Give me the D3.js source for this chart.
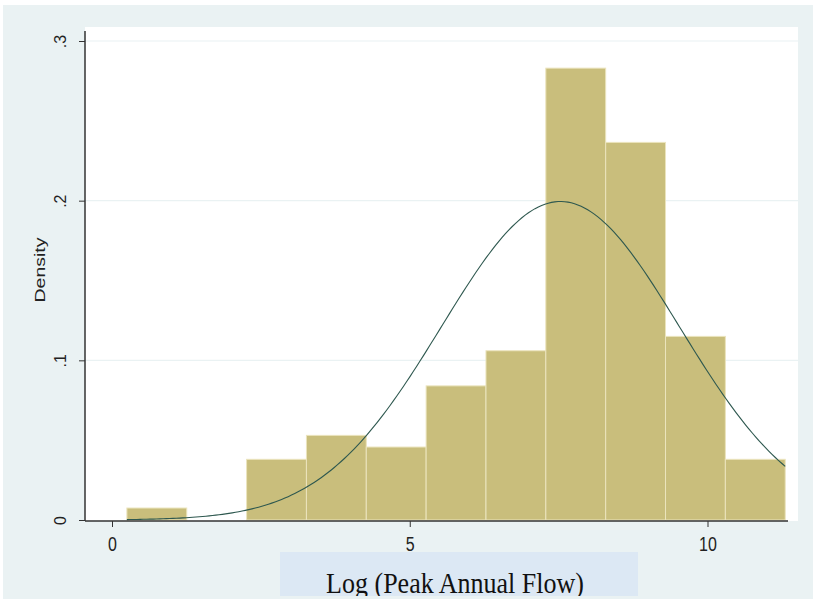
<!DOCTYPE html>
<html>
<head>
<meta charset="utf-8">
<script src="https://cdn.jsdelivr.net/npm/d3@7"></script>
<style>
  body { margin: 0; background: #fff; }
  svg { display: block; }
</style>
</head>
<body>
<svg width="813" height="599"></svg>
<script>
// histogram bins (log of peak annual flow) and their densities
var binLower = [0.25, 1.255, 2.26, 3.265, 4.27, 5.275, 6.28, 7.285, 8.29, 9.295, 10.3];
var binUpper = [1.255, 2.26, 3.265, 4.27, 5.275, 6.28, 7.285, 8.29, 9.295, 10.3, 11.305];
var density = [0.0075, 0, 0.038, 0.053, 0.0457, 0.084, 0.106, 0.283, 0.2365, 0.115, 0.038];

// fitted normal overlay
var normalMean = 7.53;
var normalSd = 2.0;

var xTicks = [0, 5, 10];
var yTicks = [0, 0.1, 0.2, 0.3];
var yTickLabels = ["0", ".1", ".2", ".3"];

var svg = d3.select("svg");
var plot = {left: 85, right: 798, top: 27, bottom: 521};
var sans = "Liberation Sans, Arial, sans-serif";
var stretch = 1.3;   // the picture's glyphs are taller than wide

var x = d3.scaleLinear().domain([0, 10]).range([112, 707.5]);
var y = d3.scaleLinear().domain([0, 0.3]).range([plot.bottom - 1, 41]);

// outer background
svg.append("rect")
    .attr("x", 3).attr("y", 5)
    .attr("width", 810).attr("height", 594)
    .style("fill", "#eaf2f3");

// plot region
svg.append("rect")
    .attr("x", plot.left).attr("y", plot.top)
    .attr("width", plot.right - plot.left)
    .attr("height", plot.bottom - plot.top)
    .style("fill", "#ffffff");

// grid lines
svg.append("g")
    .selectAll("line")
    .data(yTicks.slice(1))
    .enter().append("line")
    .attr("x1", plot.left).attr("x2", plot.right)
    .attr("y1", function(d) {return y(d)})
    .attr("y2", function(d) {return y(d)})
    .style("stroke", "#eaf2f3")
    .style("stroke-width", 1.2);

// bars
var barIdx = d3.range(density.length).filter(function(i) {return density[i] > 0});
svg.append("g")
    .selectAll("rect")
    .data(barIdx)
    .enter().append("rect")
    .attr("x", function(i) {return x(binLower[i])})
    .attr("y", function(i) {return y(density[i])})
    .attr("width", function(i) {return x(binUpper[i]) - x(binLower[i])})
    .attr("height", function(i) {return y(0) - y(density[i])})
    .style("fill", "#c9be7c")
    .style("stroke", "#ebe4bd")
    .style("stroke-width", 1);

// normal density curve
var curvePts = d3.range(0, 201).map(function(k) {
    var v = binLower[0] + (binUpper[binUpper.length - 1] - binLower[0]) * k / 200;
    var z = (v - normalMean) / normalSd;
    return [v, Math.exp(-0.5 * z * z) / (normalSd * Math.sqrt(2 * Math.PI))];
});

var line = d3.line()
    .x(function(d) {return x(d[0])})
    .y(function(d) {return y(d[1])});

svg.append("path")
    .attr("d", line(curvePts))
    .style("fill", "none")
    .style("stroke", "#2e584f")
    .style("stroke-width", 1.1);

// axes
var xAxis = svg.append("g")
    .attr("transform", "translate(0," + plot.bottom + ")")
    .call(d3.axisBottom(x).tickValues(xTicks).tickSize(6).tickFormat(d3.format("d")));
xAxis.select(".domain").remove();
xAxis.append("line")
    .attr("x1", plot.left).attr("x2", 788)
    .style("stroke", "#333").style("stroke-width", 1.5);
xAxis.selectAll(".tick line").style("stroke", "#333");
xAxis.selectAll("text")
    .attr("y", 12)
    .attr("transform", "scale(1," + stretch + ")")
    .style("font-family", sans)
    .style("font-size", "16px")
    .style("fill", "#222");

var yAxis = svg.append("g")
    .attr("transform", "translate(" + plot.left + ",0)")
    .call(d3.axisLeft(y).tickValues(yTicks).tickSize(6).tickFormat(function(d, i) {return yTickLabels[i]}));
yAxis.select(".domain").remove();
yAxis.append("line")
    .attr("y1", plot.top + 4).attr("y2", plot.bottom)
    .style("stroke", "#333").style("stroke-width", 1.5);
yAxis.selectAll(".tick line").style("stroke", "#333");
yAxis.selectAll("text")
    .attr("x", 0).attr("dy", 0)
    .attr("transform", "translate(-19,0) rotate(-90)")
    .attr("text-anchor", "middle")
    .style("font-family", sans)
    .style("font-size", "16px")
    .style("fill", "#222");

// y title
svg.append("text")
    .attr("transform", "translate(45,270) scale(1," + stretch + ") rotate(-90)")
    .attr("text-anchor", "middle")
    .style("font-family", sans)
    .style("font-size", "15px")
    .style("fill", "#222")
    .text("Density");

// x title in its box, clipped at the bottom
var box = {x: 280, y: 552, w: 358, h: 44};
svg.append("defs").append("clipPath").attr("id", "titleClip")
    .append("rect")
    .attr("x", box.x).attr("y", box.y).attr("width", box.w).attr("height", box.h);

svg.append("rect")
    .attr("x", box.x).attr("y", box.y)
    .attr("width", box.w).attr("height", box.h)
    .style("fill", "#dce8f4");

svg.append("g")
    .attr("clip-path", "url(#titleClip)")
    .append("text")
    .attr("transform", "translate(455,593) scale(1,1.1)")
    .attr("text-anchor", "middle")
    .style("font-family", "Liberation Serif, Times New Roman, serif")
    .style("font-size", "26px")
    .style("fill", "#111")
    .text("Log (Peak Annual Flow)");
</script>
</body>
</html>
